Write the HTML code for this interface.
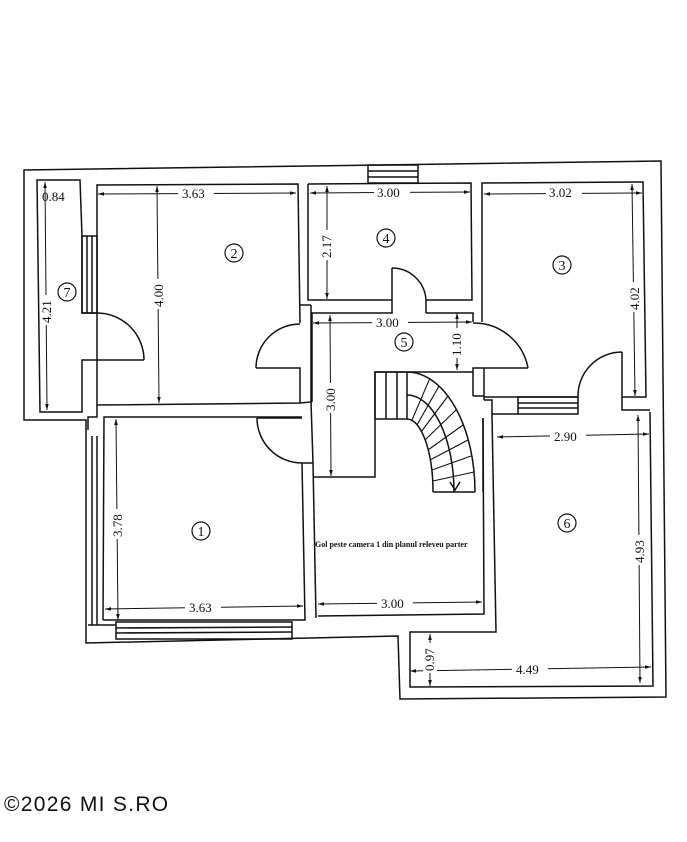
<!DOCTYPE html>
<html><head><meta charset="utf-8"><style>
html,body{margin:0;padding:0;background:#fff;width:687px;height:842px;overflow:hidden}
svg{display:block}
text{font-family:"Liberation Serif",serif;fill:#111}
</style></head><body>
<svg width="687" height="842" viewBox="0 0 687 842" xmlns="http://www.w3.org/2000/svg">
<defs>
<marker id="a" viewBox="0 0 10 10" refX="10" refY="5" markerWidth="6" markerHeight="6" orient="auto-start-reverse"><path d="M0,2 L10,5 L0,8" fill="#111"/></marker>
</defs>
<g fill="none" stroke="#111" stroke-width="1.5">
<polygon points="24,170 661,161 666,697 400,699 398,636 86,643 86,420 24,420"/>
<polygon points="37,180 80,180 82,236 82,313 97,313 97,360 82,360 82,412 40,412"/>
<rect x="82" y="236" width="15" height="77"/><line x1="87" y1="236" x2="87" y2="313"/><line x1="92" y1="236" x2="92" y2="313"/>
<path d="M97,313 A47,47 0 0 1 144,360"/>
<line x1="97" y1="360" x2="144" y2="360"/>
<polyline points="97,313 97,185 298,184 300,323"/>
<path d="M300,324 A44,44 0 0 0 256,368"/>
<polyline points="256,368 300,368 300,403 97,405 97,360"/>
<polyline points="311,305 311,402 300,403"/>
<line x1="300" y1="305" x2="311" y2="305"/>
<polyline points="97,405 97,417 88,417 88,430"/>
<polyline points="103,620 104,417 302,417"/>
<path d="M257,418 A45,45 0 0 0 302,463"/>
<line x1="257" y1="418" x2="302" y2="418"/>
<polyline points="302,463 305,620 103,620"/>
<polyline points="311,402 313,463"/>
<polyline points="313,463 316,618"/>
<line x1="302" y1="463" x2="313" y2="463"/>
<line x1="92" y1="436" x2="92" y2="625"/><line x1="97" y1="436" x2="97" y2="625"/>
<line x1="88" y1="625" x2="116" y2="625"/>
<rect x="116" y="622" width="176" height="17"/><line x1="116" y1="628" x2="292" y2="627"/><line x1="116" y1="633" x2="292" y2="632"/>
<polyline points="308,184 471,183 472,300 426,300"/>
<polyline points="392,268 392,300 308,300 308,184"/>
<path d="M392,268 A34,34 0 0 1 426,300"/>
<line x1="426" y1="300" x2="426" y2="313"/>
<rect x="368" y="165" width="50" height="18"/><line x1="368" y1="171" x2="418" y2="171"/><line x1="368" y1="177" x2="418" y2="177"/>
<polyline points="312,402 312,313 392,313 392,300"/>
<polyline points="426,313 473,313 473,322"/>
<path d="M473,323 A55,55 0 0 1 528,368"/>
<polyline points="528,368 473,368 473,372 375,372 375,477 313,477"/>
<line x1="484" y1="368" x2="484" y2="400"/>
<line x1="473" y1="372" x2="473" y2="396"/>
<polyline points="482,322 482,183 643,182 646,397 622,397 622,352"/>
<path d="M622,352 A44,44 0 0 0 578,397"/>
<polyline points="578,397 484,397"/>
<rect x="518" y="397" width="60" height="17"/><line x1="518" y1="403" x2="578" y2="403"/><line x1="518" y1="408" x2="578" y2="408"/>
<polyline points="622,397 622,410 650,410"/>
<polyline points="518,414 492,414 492,416 496,632 410,632 410,687 653,686 650,412"/>
<polyline points="484,400 492,400 492,414"/>
<polyline points="483,418 484,614 318,616"/>
<line x1="473" y1="396" x2="484" y2="396"/>
<rect x="375" y="372" width="32" height="47"/>
<line x1="386" y1="372" x2="386" y2="419"/><line x1="397" y1="372" x2="397" y2="419"/>
<path d="M407,372 A68,120 0 0 1 475,492"/>
<path d="M407,419 A26,73 0 0 1 433,492"/>
<path d="M407,395 A47,97 0 0 1 454,492"/>
<line x1="433" y1="492" x2="475" y2="492"/>
<line x1="483" y1="418" x2="483" y2="492"/>
<g stroke-width="1.1">
<line x1="412" y1="420" x2="430" y2="378"/>
<line x1="417" y1="425" x2="439" y2="386"/>
<line x1="421" y1="432" x2="448" y2="396"/>
<line x1="425" y1="440" x2="456" y2="410"/>
<line x1="428" y1="450" x2="463" y2="425"/>
<line x1="430" y1="460" x2="468" y2="440"/>
<line x1="432" y1="470" x2="471" y2="456"/>
<line x1="433" y1="481" x2="474" y2="472"/>
</g>
<polyline points="450,482 455,490 460,482"/>
</g>
<g stroke="#111" stroke-width="1" marker-start="url(#a)" marker-end="url(#a)">
<line x1="98" y1="194" x2="296" y2="193"/>
<line x1="157" y1="186" x2="159" y2="403"/>
<line x1="45" y1="182" x2="47" y2="410"/>
<line x1="310" y1="193" x2="470" y2="192"/>
<line x1="327" y1="186" x2="327" y2="299"/>
<line x1="484" y1="194" x2="642" y2="193"/>
<line x1="632" y1="184" x2="635" y2="396"/>
<line x1="313" y1="323" x2="472" y2="322"/>
<line x1="330" y1="315" x2="331" y2="476"/>
<line x1="457" y1="313" x2="457" y2="370"/>
<line x1="497" y1="437" x2="649" y2="434"/>
<line x1="638" y1="415" x2="640" y2="683"/>
<line x1="116" y1="419" x2="118" y2="620"/>
<line x1="105" y1="609" x2="303" y2="606"/>
<line x1="318" y1="604" x2="482" y2="602"/>
<line x1="410" y1="671" x2="651" y2="667"/>
<line x1="430" y1="634" x2="430" y2="686"/>
</g>
<g font-size="13">
<rect x="178" y="186" width="36" height="14" fill="#fff"/><text x="182" y="198">3.63</text>
<rect x="374" y="185" width="36" height="14" fill="#fff"/><text x="377" y="197">3.00</text>
<rect x="546" y="185" width="36" height="14" fill="#fff"/><text x="549" y="197">3.02</text>
<rect x="372" y="315" width="36" height="14" fill="#fff"/><text x="376" y="327">3.00</text>
<rect x="550" y="429" width="36" height="14" fill="#fff"/><text x="554" y="441">2.90</text>
<rect x="185" y="600" width="36" height="14" fill="#fff"/><text x="189" y="612">3.63</text>
<rect x="377" y="596" width="36" height="14" fill="#fff"/><text x="381" y="608">3.00</text>
<rect x="512" y="662" width="36" height="14" fill="#fff"/><text x="516" y="674">4.49</text>
<text x="42" y="201">0.84</text>
<g transform="translate(51,310) rotate(-90)"><rect x="-15" y="-11" width="30" height="14" fill="#fff"/><text x="-13" y="0">4.21</text></g>
<g transform="translate(163,294) rotate(-90)"><rect x="-15" y="-11" width="30" height="14" fill="#fff"/><text x="-13" y="0">4.00</text></g>
<g transform="translate(331,245) rotate(-90)"><rect x="-15" y="-11" width="30" height="14" fill="#fff"/><text x="-13" y="0">2.17</text></g>
<g transform="translate(639,297) rotate(-90)"><rect x="-15" y="-11" width="30" height="14" fill="#fff"/><text x="-13" y="0">4.02</text></g>
<g transform="translate(335,398) rotate(-90)"><rect x="-15" y="-11" width="30" height="14" fill="#fff"/><text x="-13" y="0">3.00</text></g>
<g transform="translate(461,343) rotate(-90)"><rect x="-15" y="-11" width="30" height="14" fill="#fff"/><text x="-13" y="0">1.10</text></g>
<g transform="translate(644,550) rotate(-90)"><rect x="-15" y="-11" width="30" height="14" fill="#fff"/><text x="-13" y="0">4.93</text></g>
<g transform="translate(122,524) rotate(-90)"><rect x="-15" y="-11" width="30" height="14" fill="#fff"/><text x="-13" y="0">3.78</text></g>
<g transform="translate(434,658) rotate(-90)"><rect x="-15" y="-11" width="30" height="14" fill="#fff"/><text x="-13" y="0">0.97</text></g>
</g>
<g fill="none" stroke="#111" stroke-width="1.2">
<circle cx="67" cy="292" r="9"/><circle cx="234" cy="253" r="9"/><circle cx="386" cy="238" r="9"/>
<circle cx="562" cy="265" r="9"/><circle cx="404" cy="342" r="9"/><circle cx="201" cy="531" r="9"/>
<circle cx="567" cy="523" r="9"/>
</g>
<g font-size="14" text-anchor="middle">
<text x="67" y="297">7</text><text x="234" y="258">2</text><text x="386" y="243">4</text>
<text x="562" y="270">3</text><text x="404" y="347">5</text><text x="201" y="536">1</text>
<text x="567" y="528">6</text>
</g>
<text x="315" y="547" font-size="8" font-weight="bold">Gol peste camera 1 din planul releveu parter</text>
<text x="4" y="811" font-size="21" letter-spacing="1.3" style="font-family:'Liberation Sans',sans-serif">©2026 MI S.RO</text>
</svg>
</body></html>
